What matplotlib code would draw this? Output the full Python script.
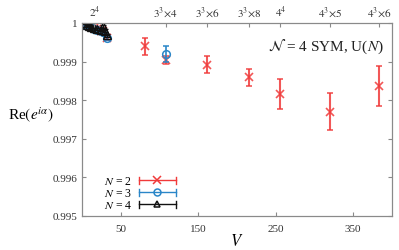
import matplotlib
matplotlib.use("Agg")
import matplotlib.pyplot as plt
from matplotlib.legend_handler import HandlerBase
from matplotlib.lines import Line2D
import numpy as np

plt.rcParams['font.family'] = ['Liberation Serif', 'DejaVu Serif']
plt.rcParams['mathtext.fontset'] = 'stix'

# N = 2
V2 = [2, 4, 8, 12, 16, 20, 24, 27, 32, 81, 108, 162, 216, 256, 320, 384]
y2 = [0.99999, 0.99997, 0.99994, 0.99990, 0.99987, 0.99984, 0.99980, 0.99978, 0.99962,
      0.99940, 0.99905, 0.99892, 0.99859, 0.99816, 0.99770, 0.99836]
e2 = [0.00002, 0.00002, 0.00003, 0.00003, 0.00003, 0.00004, 0.00004, 0.00004, 0.00005,
      0.00022, 0.00010, 0.00022, 0.00022, 0.00039, 0.00048, 0.00052]
# N = 3
V3 = [2, 4, 8, 12, 16, 20, 24, 27, 32, 108]
y3 = [0.99999, 0.99996, 0.99993, 0.99989, 0.99985, 0.99982, 0.99979, 0.99976, 0.99960, 0.99920]
e3 = [0.00002, 0.00002, 0.00002, 0.00003, 0.00003, 0.00003, 0.00003, 0.00004, 0.00004, 0.00020]
# N = 4
V4 = [1, 3, 6, 9, 12, 16, 20, 24, 27, 30, 32]
y4 = [1.00000, 0.99999, 0.99996, 0.99993, 0.99990, 0.99988, 0.99984, 0.99983, 0.99992, 0.99980, 0.99968]
e4 = [0.00001, 0.00001, 0.00002, 0.00002, 0.00002, 0.00002, 0.00003, 0.00003, 0.00004, 0.00004, 0.00004]

top_ticks = [16, 108, 162, 216, 256, 320, 384]
top_labels = [r'$2^4$', r'$3^3\!\times\!4$', r'$3^3\!\times\!6$', r'$3^3\!\times\!8$',
              r'$4^4$', r'$4^3\!\times\!5$', r'$4^3\!\times\!6$']
bottom_ticks = [50, 150, 250, 350]
y_ticks = [0.995, 0.996, 0.997, 0.998, 0.999, 1.0]
y_labels = ['0.995', '0.996', '0.997', '0.998', '0.999', '1']

red = '#f03a3a'
blue = '#2a86c8'
black = '#111111'
gray = '#8a8a8a'

fig = plt.figure(figsize=(3.99, 2.51), dpi=100)
ax = fig.add_axes([0.2055, 0.1355, 0.7765, 0.769])

ax.errorbar(V2, y2, yerr=e2, fmt='x', color=red, ms=5.5, mew=1.2, elinewidth=1.5,
            capsize=2, capthick=1.0, alpha=0.85, zorder=3)
ax.errorbar(V3, y3, yerr=e3, fmt='o', color=blue, mfc='none', ms=5.5, mew=1.1,
            elinewidth=1.2, capsize=2, capthick=1.0, zorder=4)
ax.errorbar(V4, y4, yerr=e4, fmt='^', color=black, mfc='none', ms=5.5, mew=1.0,
            elinewidth=1.0, capsize=2, capthick=1.0, zorder=5)

ax.set_xlim(0, 400)
ax.set_ylim(0.995, 1.0)
ax.set_xticks(bottom_ticks)
ax.set_yticks(y_ticks)
ax.set_yticklabels(y_labels)
for s in ax.spines.values():
    s.set_color(gray)
ax.tick_params(direction='in', length=3, color=gray, labelsize=8, labelcolor='#333333',
               right=True, top=False)
ax.tick_params(axis='x', pad=6)

ax2 = ax.twiny()
ax2.set_xlim(0, 400)
ax2.set_xticks(top_ticks)
ax2.set_xticklabels(top_labels)
ax2.tick_params(direction='in', length=3, color=gray, labelsize=8, labelcolor='#333333', pad=3)
for s in ax2.spines.values():
    s.set_color(gray)

ax.set_xlabel(r'$V$', fontsize=12, labelpad=0)
ax.set_ylabel(r'Re$(e^{i\alpha})$', fontsize=11, rotation=0, labelpad=0)
ax.yaxis.set_label_coords(-0.165, 0.48)

ax.text(0.975, 0.93, r'$\mathcal{N}$ = 4 SYM, U($N$)', transform=ax.transAxes,
        ha='right', va='top', fontsize=11, color='#222222')


class ErrHandler(HandlerBase):
    def __init__(self, color, marker, mfc, ms, lw):
        super().__init__()
        self.c, self.m, self.mfc, self.ms, self.lw = color, marker, mfc, ms, lw

    def create_artists(self, legend, orig_handle, xdescent, ydescent, width, height, fontsize, trans):
        y = height / 2 - ydescent
        x0, x1 = -xdescent, width - xdescent
        ln = Line2D([x0, x1], [y, y], color=self.c, lw=self.lw, transform=trans)
        c1 = Line2D([x0, x0], [y - 2.5, y + 2.5], color=self.c, lw=self.lw, transform=trans)
        c2 = Line2D([x1, x1], [y - 2.5, y + 2.5], color=self.c, lw=self.lw, transform=trans)
        mk = Line2D([(x0 + x1) / 2], [y], marker=self.m, color=self.c, mfc=self.mfc,
                    ms=self.ms, mew=1.1, ls='none', transform=trans)
        return [ln, c1, c2, mk]


h2 = Line2D([], [])
h3 = Line2D([], [])
h4 = Line2D([], [])
leg = ax.legend([h2, h3, h4], [r'$N$ = 2', r'$N$ = 3', r'$N$ = 4'],
                handler_map={h2: ErrHandler(red, 'x', red, 6, 1.0),
                             h3: ErrHandler(blue, 'o', 'none', 5, 1.0),
                             h4: ErrHandler(black, '^', 'none', 5, 1.0)},
                loc='lower left', bbox_to_anchor=(0.04, -0.025), frameon=False, markerfirst=False,
                fontsize=8.5, handlelength=3.1, handletextpad=0.6, labelspacing=0.0,
                borderaxespad=0.4)

fig.savefig('out.png', dpi=100)
